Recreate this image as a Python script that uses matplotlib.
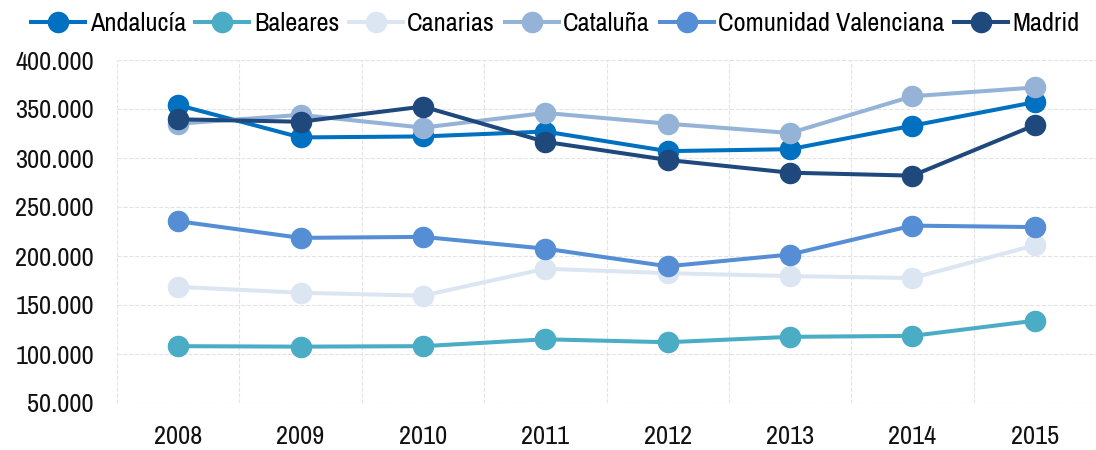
import matplotlib
matplotlib.use("Agg")
import matplotlib.pyplot as plt
from matplotlib.ticker import FuncFormatter, MultipleLocator

plt.rcParams['font.family'] = ['Archivo Narrow', 'Liberation Sans', 'DejaVu Sans']

years = ["2008", "2009", "2010", "2011", "2012", "2013", "2014", "2015"]

andalucia = [354000, 321000, 322000, 327000, 307000, 309000, 333000, 357000]
baleares = [108000, 107500, 108000, 115000, 112000, 117500, 118500, 134000]
canarias = [168500, 162500, 159500, 187000, 182500, 179500, 177500, 211000]
cataluna = [335000, 344000, 331000, 346000, 335000, 325500, 363000, 372000]
valenciana = [235500, 218500, 219500, 207500, 189500, 201500, 231000, 229500]
madrid = [339500, 337000, 352500, 316500, 298000, 285000, 282000, 333500]

series = [
    ("Andalucía", andalucia, "#0070C0"),
    ("Baleares", baleares, "#4BACC6"),
    ("Canarias", canarias, "#DCE6F2"),
    ("Cataluña", cataluna, "#95B3D7"),
    ("Comunidad Valenciana", valenciana, "#558ED5"),
    ("Madrid", madrid, "#1F497D"),
]

fig = plt.figure(figsize=(10.96, 4.5), dpi=100)
ax = fig.add_axes([117 / 1096, 1 - 403 / 450, 979 / 1096, 343 / 450])

x = list(range(len(years)))
for name, vals, col in series:
    ax.plot(x, vals, color=col, lw=2.9, marker='o', markersize=14.5, label=name)

ax.set_xlim(-0.5, len(years) - 0.5)
ax.set_ylim(50000, 400000)
ax.yaxis.set_major_locator(MultipleLocator(50000))
ax.yaxis.set_major_formatter(FuncFormatter(lambda v, p: f"{int(v):,}".replace(",", ".")))
ax.set_xticks(x)
ax.set_xticklabels(years)
ax.set_xticks([i - 0.5 for i in range(len(years) + 1)], minor=True)

ax.grid(True, which='major', axis='y', color='#E3E3E3', ls='--', lw=0.8)
ax.grid(True, which='minor', axis='x', color='#E3E3E3', ls='--', lw=0.8)
ax.set_axisbelow(True)
for s in ax.spines.values():
    s.set_visible(False)
ax.tick_params(axis='both', which='both', length=0, labelsize=19, colors='#111111')
ax.tick_params(axis='y', pad=16.5)
ax.tick_params(axis='x', pad=16)

fig.legend(loc='upper left', bbox_to_anchor=(31 / 1096, 1 - 12 / 450), ncol=6, frameon=False,
           fontsize=19, handlelength=2.05, handletextpad=0.17, columnspacing=0.36,
           borderaxespad=0, borderpad=0)

fig.savefig("out.png", dpi=100)
